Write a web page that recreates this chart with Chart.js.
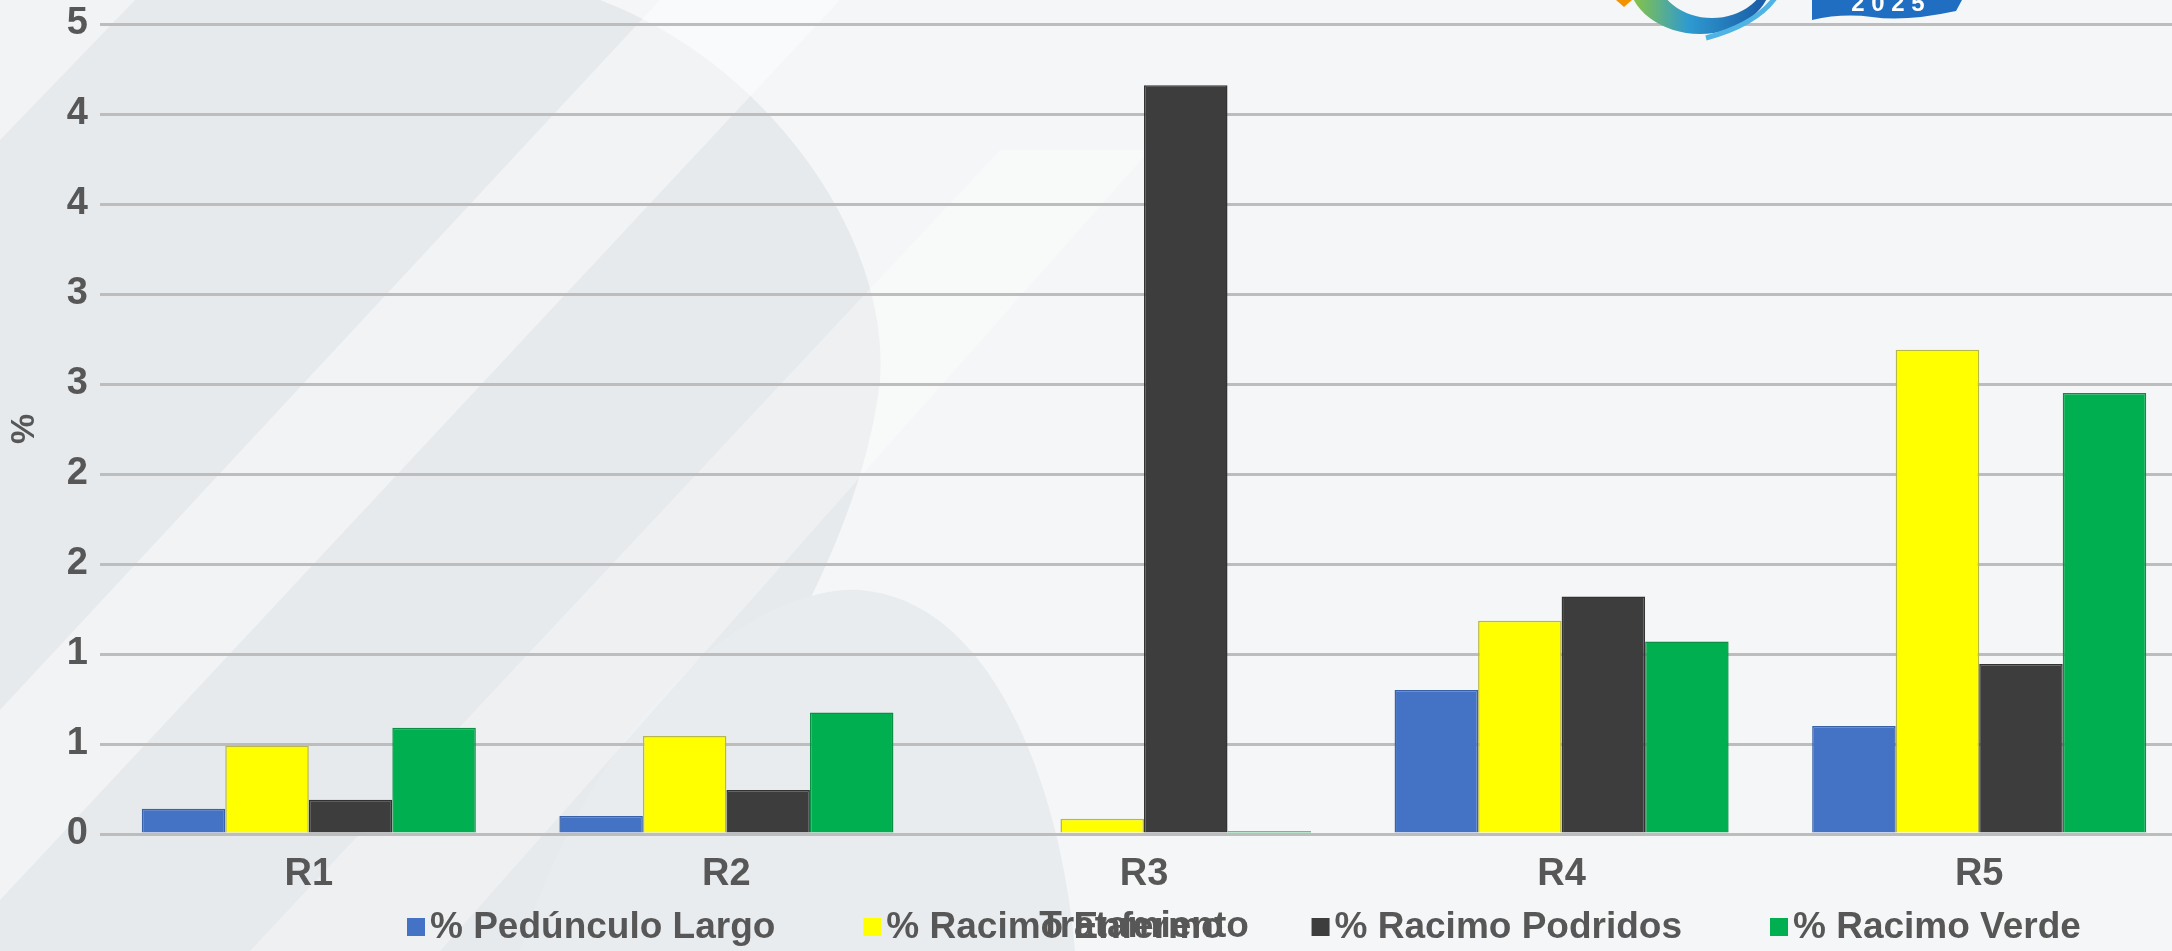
<!DOCTYPE html>
<html lang="es">
<head>
<meta charset="utf-8">
<title>Tratamiento</title>
<script src="https://cdn.jsdelivr.net/npm/chart.js@4.4.1/dist/chart.umd.min.js"></script>
<style>
  html, body { margin: 0; padding: 0; overflow: hidden; background: #f4f5f6; }
  #chart { display: block; }
</style>
</head>
<body>
<canvas id="chart" width="2188" height="951"></canvas>
<script>
const categories = ["R1", "R2", "R3", "R4", "R5"];
const seriesNames = [
  "% Pedúnculo Largo",
  "% Racimo Enfermo",
  "% Racimo Podridos",
  "% Racimo Verde",
];
const pedunculoLargo = [0.14, 0.1, 0, 0.8, 0.6];
const racimoEnfermo = [0.49, 0.545, 0.085, 1.185, 2.69];
const racimoPodridos = [0.19, 0.245, 4.16, 1.32, 0.945];
const racimoVerde = [0.59, 0.675, 0.015, 1.07, 2.45];

const fillColors = ["#4472C4", "#FFFF00", "#3D3D3D", "#00B050"];
const edgeColors = ["#3A62A8", "#B8B84A", "#333333", "#0A8F45"];

const textColor = "#575757";
const fontFamily = "'Liberation Sans', Arial, sans-serif";
const labelFont = { family: fontFamily, size: 38, weight: "bold" };
const legendFont = "bold 37px " + fontFamily;

// light template background: grey swooshes and diagonal bands
const backdrop = {
  id: "backdrop",
  beforeDraw(chart) {
    const ctx = chart.ctx;
    const w = chart.width;
    const h = chart.height;
    ctx.save();
    ctx.fillStyle = "#f5f6f7";
    ctx.fillRect(0, 0, w, h);

    // big curved shape on the left
    ctx.fillStyle = "#e7eaed";
    ctx.beginPath();
    ctx.moveTo(0, 0);
    ctx.lineTo(600, 0);
    ctx.bezierCurveTo(760, 60, 890, 230, 880, 380);
    ctx.bezierCurveTo(860, 560, 720, 780, 560, 951);
    ctx.lineTo(0, 951);
    ctx.closePath();
    ctx.fill();

    // lower rounded shape
    ctx.fillStyle = "#e9ecef";
    ctx.beginPath();
    ctx.moveTo(520, 951);
    ctx.bezierCurveTo(600, 700, 760, 585, 860, 590);
    ctx.bezierCurveTo(990, 600, 1060, 780, 1075, 951);
    ctx.closePath();
    ctx.fill();

    // diagonal lighter bands
    ctx.fillStyle = "rgba(255,255,255,0.45)";
    ctx.beginPath();
    ctx.moveTo(0, 0);
    ctx.lineTo(135, 0);
    ctx.lineTo(0, 140);
    ctx.closePath();
    ctx.fill();

    ctx.beginPath();
    ctx.moveTo(660, 0);
    ctx.lineTo(840, 0);
    ctx.lineTo(0, 900);
    ctx.lineTo(0, 710);
    ctx.closePath();
    ctx.fill();

    ctx.fillStyle = "rgba(255,255,255,0.3)";
    ctx.beginPath();
    ctx.moveTo(1000, 150);
    ctx.lineTo(1150, 150);
    ctx.lineTo(440, 951);
    ctx.lineTo(250, 951);
    ctx.closePath();
    ctx.fill();
    ctx.restore();
  },
};

// event logo peeking in at the top right
const logo = {
  id: "logo",
  afterDraw(chart) {
    const ctx = chart.ctx;
    ctx.save();
    ctx.fillStyle = "#F39200";
    ctx.beginPath();
    ctx.moveTo(1616, 0);
    ctx.lineTo(1632, 0);
    ctx.lineTo(1624, 7);
    ctx.closePath();
    ctx.fill();

    const grad = ctx.createLinearGradient(1630, 0, 1760, 0);
    grad.addColorStop(0, "#8CC63F");
    grad.addColorStop(0.45, "#2E9AD0");
    grad.addColorStop(1, "#1B5FA8");
    ctx.fillStyle = grad;
    ctx.beginPath();
    ctx.ellipse(1700, -22, 72, 56, 0, 0, Math.PI);
    ctx.ellipse(1712, -28, 56, 46, 0, Math.PI, 0, true);
    ctx.fill("evenodd");

    ctx.strokeStyle = "#4FB3E3";
    ctx.lineWidth = 5;
    ctx.beginPath();
    ctx.moveTo(1706, 38);
    ctx.quadraticCurveTo(1755, 25, 1775, -2);
    ctx.stroke();

    ctx.fillStyle = "#1F6EC2";
    ctx.beginPath();
    ctx.moveTo(1812, 0);
    ctx.lineTo(1962, 0);
    ctx.lineTo(1956, 11);
    ctx.quadraticCurveTo(1905, 22, 1872, 17);
    ctx.quadraticCurveTo(1842, 13, 1812, 20);
    ctx.closePath();
    ctx.fill();
    ctx.fillStyle = "#ffffff";
    ctx.font = "bold 24px " + fontFamily;
    ctx.textAlign = "center";
    ctx.textBaseline = "alphabetic";
    ctx.fillText("2 0 2 5", 1888, 11);
    ctx.restore();
  },
};

// single-row legend along the bottom, drawn over the axis title
const bottomLegend = {
  id: "bottomLegend",
  afterDraw(chart) {
    const ctx = chart.ctx;
    const y = 927;
    let x = 407;
    ctx.save();
    ctx.font = legendFont;
    ctx.textBaseline = "middle";
    ctx.textAlign = "left";
    chart.data.datasets.forEach((ds) => {
      ctx.fillStyle = ds.backgroundColor;
      ctx.fillRect(x, y - 9, 18, 18);
      ctx.fillStyle = textColor;
      ctx.fillText(ds.label, x + 23, y + 1);
      x += 23 + ctx.measureText(ds.label).width + 88;
    });
    ctx.restore();
  },
};

const seriesValues = [pedunculoLargo, racimoEnfermo, racimoPodridos, racimoVerde];

const datasets = seriesNames.map((name, i) => ({
  label: name,
  data: seriesValues[i],
  backgroundColor: fillColors[i],
  borderColor: edgeColors[i],
  borderWidth: 1.5,
  barPercentage: 1,
  categoryPercentage: 0.8,
}));

new Chart(document.getElementById("chart"), {
  type: "bar",
  data: { labels: categories, datasets: datasets },
  options: {
    responsive: false,
    animation: false,
    devicePixelRatio: 1,
    layout: { padding: { top: 24, right: 0, bottom: 0, left: 0 } },
    plugins: {
      legend: { display: false },
      tooltip: { enabled: false },
    },
    scales: {
      x: {
        offset: true,
        grid: { display: false },
        border: { display: false },
        ticks: { color: textColor, font: labelFont, padding: 10 },
        title: {
          display: true,
          text: "Tratamiento",
          color: textColor,
          font: { family: fontFamily, size: 37, weight: "bold" },
          padding: { top: 0, bottom: 2 },
        },
        afterFit(scale) {
          scale.height = 117;
        },
      },
      y: {
        min: 0,
        max: 4.5,
        grid: { color: "#bdbdbd", lineWidth: 3, drawTicks: false },
        border: { display: false },
        ticks: {
          stepSize: 0.5,
          color: textColor,
          // short line height keeps the top label from pushing the plot down
          font: { family: fontFamily, size: 38, weight: "bold", lineHeight: 0.6 },
          padding: 12,
          callback: (v) => Math.round(v + 1e-9),
        },
        title: {
          display: true,
          text: "%",
          color: textColor,
          font: { family: fontFamily, size: 34, weight: "bold" },
          padding: { top: 4, bottom: 0 },
        },
        afterFit(scale) {
          scale.width = 100;
        },
      },
    },
  },
  plugins: [backdrop, logo, bottomLegend],
});
</script>
</body>
</html>
